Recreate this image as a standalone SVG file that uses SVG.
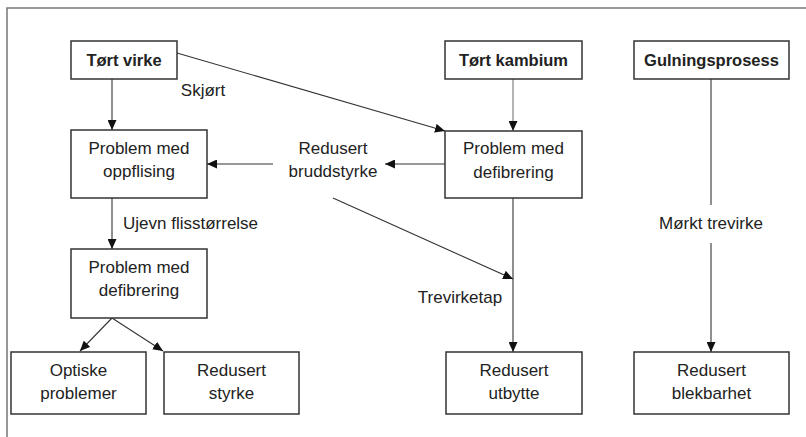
<svg xmlns="http://www.w3.org/2000/svg" width="806" height="437" viewBox="0 0 806 437">
<defs>
<marker id="ah" markerUnits="userSpaceOnUse" markerWidth="11" markerHeight="9" refX="10" refY="4.5" orient="auto">
<path d="M0,0 L10,4.5 L0,9 z" fill="#111"/>
</marker>
</defs>
<style>
.box{fill:#fff;stroke:#333;stroke-width:1.5}
.t{font-family:"Liberation Sans",Arial,sans-serif;font-size:17px;fill:#222;text-anchor:middle}
.b{font-weight:bold;font-size:16.5px}
.c{stroke:#333;stroke-width:1.1;fill:none}
.ca{stroke:#333;stroke-width:1.1;fill:none;marker-end:url(#ah)}
.frame{stroke:#777;stroke-width:1.5;fill:none}
</style>
<rect x="0" y="0" width="806" height="437" fill="#fff"/>
<path class="frame" d="M7,437 L7,8 L806,8"/>

<g id="connectors">
<line class="ca" x1="112" y1="79" x2="112" y2="130"/>
<line class="ca" x1="177" y1="53" x2="445" y2="131"/>
<line class="ca" x1="513" y1="79" x2="513" y2="131" style="stroke:#777"/>
<line class="ca" x1="273" y1="164" x2="207" y2="164"/>
<line class="ca" x1="445" y1="164" x2="385" y2="164"/>
<line class="ca" x1="112" y1="198" x2="112" y2="249"/>
<line class="ca" x1="112" y1="318" x2="80" y2="351"/>
<line class="ca" x1="112" y1="318" x2="163" y2="351"/>
<line class="ca" x1="333" y1="198" x2="513" y2="279"/>
<line class="ca" x1="513" y1="198" x2="513" y2="352"/>
<line class="c" x1="711" y1="79" x2="711" y2="205"/>
<line class="ca" x1="711" y1="243" x2="711" y2="352"/>
<text class="t" x="203" y="96">Skjørt</text>
<text class="t" x="333" y="154">Redusert</text>
<text class="t" x="333" y="177">bruddstyrke</text>
<text class="t" x="123" y="229" style="text-anchor:start">Ujevn flisstørrelse</text>
<text class="t" x="460" y="303">Trevirketap</text>
<text class="t" x="711" y="229">Mørkt trevirke</text>
</g>

<g id="n1"><rect class="box" x="71" y="41" width="106" height="38"/><text class="t b" x="124" y="66">Tørt virke</text></g>
<g id="n2"><rect class="box" x="445" y="41" width="137" height="38"/><text class="t b" x="513.5" y="66">Tørt kambium</text></g>
<g id="n3"><rect class="box" x="634" y="41" width="155" height="38"/><text class="t b" x="711.5" y="66">Gulningsprosess</text></g>
<g id="n4"><rect class="box" x="71" y="130" width="136" height="68"/><text class="t" x="139" y="154">Problem med</text><text class="t" x="139" y="177">oppflising</text></g>
<g id="n5"><rect class="box" x="445" y="131" width="137" height="67"/><text class="t" x="513.5" y="154">Problem med</text><text class="t" x="513.5" y="178">defibrering</text></g>
<g id="n6"><rect class="box" x="71" y="249" width="136" height="69"/><text class="t" x="139" y="273">Problem med</text><text class="t" x="139" y="296">defibrering</text></g>
<g id="n7"><rect class="box" x="11" y="352" width="135" height="62"/><text class="t" x="78.5" y="376">Optiske</text><text class="t" x="78.5" y="399">problemer</text></g>
<g id="n8"><rect class="box" x="164" y="352" width="135" height="62"/><text class="t" x="231.5" y="376">Redusert</text><text class="t" x="231.5" y="399">styrke</text></g>
<g id="n9"><rect class="box" x="446" y="352" width="136" height="62"/><text class="t" x="514" y="376">Redusert</text><text class="t" x="514" y="399">utbytte</text></g>
<g id="n10"><rect class="box" x="634" y="352" width="155" height="62"/><text class="t" x="711.5" y="376">Redusert</text><text class="t" x="711.5" y="399">blekbarhet</text></g>
</svg>
